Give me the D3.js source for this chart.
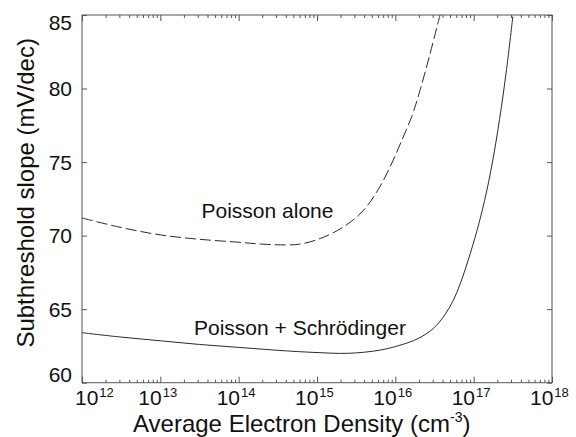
<!DOCTYPE html>
<html>
<head>
<meta charset="utf-8">
<script src="https://cdn.jsdelivr.net/npm/d3@7"></script>
<style>
  html, body { margin: 0; padding: 0; background: #fff; }
  svg { display: block; font-family: "Liberation Sans", Arial, sans-serif; }
</style>
</head>
<body>
<svg id="chart" width="576" height="437"></svg>
<script>
// ---- Data ----
// Average electron density as log10 exponent (cm^-3)
const poissonExp = [12.0, 12.5, 13.0, 13.5, 14.0, 14.3, 14.6, 14.78, 15.04, 15.34, 15.59, 15.80, 15.97, 16.10, 16.21, 16.30, 16.44, 16.57];
const poissonVal = [71.2, 70.55, 70.05, 69.75, 69.55, 69.42, 69.37, 69.42, 69.8, 70.6, 71.7, 73.3, 75.1, 76.7, 78.1, 79.6, 82.3, 85.0];

const schrodExp = [12.0, 12.5, 13.0, 13.5, 14.0, 14.5, 15.0, 15.4, 15.80, 16.06, 16.29, 16.485, 16.63, 16.74, 16.83, 16.93, 17.04, 17.14, 17.24, 17.33, 17.42, 17.50];
const schrodVal = [63.4, 63.1, 62.85, 62.6, 62.4, 62.2, 62.05, 62.0, 62.21, 62.55, 63.0, 63.69, 64.6, 65.6, 66.75, 68.33, 70.3, 72.4, 75.0, 77.9, 81.3, 84.9];

const xDecades = [12, 13, 14, 15, 16, 17, 18];
const yTicks = [60, 65, 70, 75, 80, 85];

const labelPoisson = "Poisson alone";
const labelSchrod = "Poisson + Schrödinger";
const xTitle = "Average Electron Density (cm";
const xTitleSup = "-3";
const yTitle = "Subthreshold slope (mV/dec)";

// ---- Layout ----
const svg = d3.select("#chart");
const L = 82, R = 552, T = 15, B = 382.7;
const lineColor = "#2a2a2a";
const axisColor = "#555";

const x = d3.scaleLog().domain([1e12, 1e18]).range([L, R]);
const y = d3.scaleLinear().domain([60, 85]).range([B, T]);

const majors = xDecades.map(e => Math.pow(10, e));
const minors = [];
for (let e = 12; e < 18; e++) for (let m = 2; m <= 9; m++) minors.push(m * Math.pow(10, e));

// Frame
svg.append("rect").attr("x", L).attr("y", T).attr("width", R - L).attr("height", B - T)
  .attr("fill", "none").attr("stroke", axisColor).attr("stroke-width", 1);

function styleAxis(g) {
  g.select(".domain").remove();
  g.selectAll(".tick line").attr("stroke", axisColor).attr("stroke-width", 1);
}

// Bottom axis: major + minor ticks (pointing inward)
svg.append("g").attr("transform", `translate(0,${B})`)
  .call(d3.axisBottom(x).tickValues(majors).tickSize(-6).tickFormat("")).call(styleAxis);
svg.append("g").attr("transform", `translate(0,${B})`)
  .call(d3.axisBottom(x).tickValues(minors).tickSize(-3).tickFormat("")).call(styleAxis);

// Top axis
svg.append("g").attr("transform", `translate(0,${T})`)
  .call(d3.axisTop(x).tickValues(majors).tickSize(-6).tickFormat("")).call(styleAxis);
svg.append("g").attr("transform", `translate(0,${T})`)
  .call(d3.axisTop(x).tickValues(minors).tickSize(-3).tickFormat("")).call(styleAxis);

// Left & right axes
svg.append("g").attr("transform", `translate(${L},0)`)
  .call(d3.axisLeft(y).tickValues(yTicks).tickSize(-5).tickFormat("")).call(styleAxis);
svg.append("g").attr("transform", `translate(${R},0)`)
  .call(d3.axisRight(y).tickValues(yTicks).tickSize(-5).tickFormat("")).call(styleAxis);

// X tick labels: 10 with superscript exponent
const xl = svg.append("g").attr("font-size", 21).attr("fill", "#111");
xDecades.forEach((e, i) => {
  const px = x(Math.pow(10, e));
  const t = xl.append("text").attr("y", 405)
    .attr("x", i === 0 ? px - 7 : px - 22);
  t.append("tspan").text("10");
  t.append("tspan").attr("font-size", 13).attr("dy", -8).attr("dx", 1).text(String(e));
});

// Y tick labels
const yl = svg.append("g").attr("font-size", 21).attr("fill", "#111").attr("text-anchor", "end");
yTicks.forEach((v, i) => {
  let by = y(v) + 7.5;
  if (i === 0) by = y(v) - 1;
  if (i === yTicks.length - 1) by = y(v) + 15;
  yl.append("text").attr("x", 72).attr("y", by).text(String(v));
});

// Axis titles
const xt = svg.append("text").attr("x", 133).attr("y", 431.5).attr("font-size", 24).attr("fill", "#111");
xt.append("tspan").text(xTitle);
xt.append("tspan").attr("font-size", 14).attr("dy", -10).text(xTitleSup);
xt.append("tspan").attr("dy", 10).text(")");

svg.append("text")
  .attr("transform", `translate(34,${(T + B) / 2 - 6}) rotate(-90)`)
  .attr("text-anchor", "middle").attr("font-size", 24).attr("fill", "#111")
  .text(yTitle);

// Curves
svg.append("clipPath").attr("id", "clip").append("rect")
  .attr("x", L).attr("y", T).attr("width", R - L).attr("height", B - T);

const line = d3.line()
  .x(d => x(Math.pow(10, d[0])))
  .y(d => y(d[1]))
  .curve(d3.curveCatmullRom.alpha(0.5));

const plot = svg.append("g").attr("clip-path", "url(#clip)");
plot.append("path")
  .datum(poissonExp.map((e, i) => [e, poissonVal[i]]))
  .attr("d", line).attr("fill", "none").attr("stroke", lineColor)
  .attr("stroke-width", 1).attr("stroke-dasharray", "11,4");
plot.append("path")
  .datum(schrodExp.map((e, i) => [e, schrodVal[i]]))
  .attr("d", line).attr("fill", "none").attr("stroke", lineColor)
  .attr("stroke-width", 1);

// Curve labels
svg.append("text").attr("x", 201.5).attr("y", 218).attr("font-size", 21).attr("fill", "#111").text(labelPoisson);
svg.append("text").attr("x", 194).attr("y", 335).attr("font-size", 21).attr("fill", "#111").text(labelSchrod);
</script>
</body>
</html>
